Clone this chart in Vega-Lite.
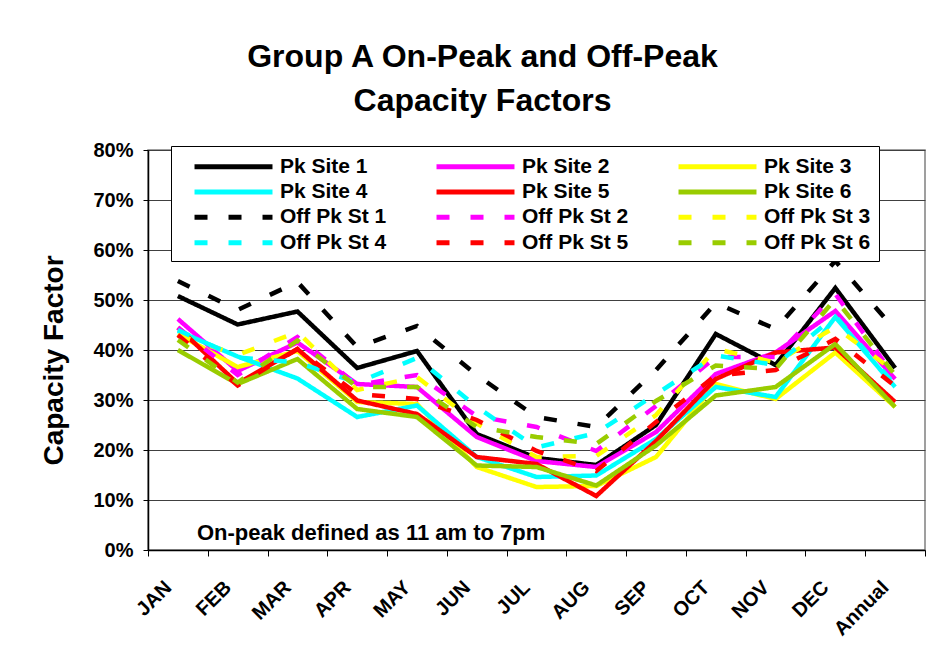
{
  "$schema": "https://vega.github.io/schema/vega-lite/v6.json",
  "width": 777,
  "height": 400,
  "autosize": {"type": "none"},
  "padding": {"left": 148, "top": 150, "right": 17, "bottom": 117},
  "background": "white",
  "config": {"font": "Liberation Sans", "view": {"stroke": "#808080", "strokeWidth": 1.5}},
  "title": {"text": ["Group A On-Peak and Off-Peak", "Capacity Factors"], "fontSize": 32, "fontWeight": "bold", "color": "black", "anchor": "middle", "frame": "group", "dx": -54, "lineHeight": 44, "offset": 22},
  "data": {"values": [
    {"m": "JAN", "s": "Pk Site 1", "v": 50.8}, {"m": "FEB", "s": "Pk Site 1", "v": 45.1}, {"m": "MAR", "s": "Pk Site 1", "v": 47.7}, {"m": "APR", "s": "Pk Site 1", "v": 36.4}, {"m": "MAY", "s": "Pk Site 1", "v": 39.8}, {"m": "JUN", "s": "Pk Site 1", "v": 23.2}, {"m": "JUL", "s": "Pk Site 1", "v": 18.4}, {"m": "AUG", "s": "Pk Site 1", "v": 17.0}, {"m": "SEP", "s": "Pk Site 1", "v": 25.0}, {"m": "OCT", "s": "Pk Site 1", "v": 43.2}, {"m": "NOV", "s": "Pk Site 1", "v": 37.0}, {"m": "DEC", "s": "Pk Site 1", "v": 52.4}, {"m": "Annual", "s": "Pk Site 1", "v": 36.4},
    {"m": "JAN", "s": "Pk Site 2", "v": 46.2}, {"m": "FEB", "s": "Pk Site 2", "v": 35.8}, {"m": "MAR", "s": "Pk Site 2", "v": 41.5}, {"m": "APR", "s": "Pk Site 2", "v": 33.2}, {"m": "MAY", "s": "Pk Site 2", "v": 32.6}, {"m": "JUN", "s": "Pk Site 2", "v": 22.6}, {"m": "JUL", "s": "Pk Site 2", "v": 17.8}, {"m": "AUG", "s": "Pk Site 2", "v": 16.6}, {"m": "SEP", "s": "Pk Site 2", "v": 23.6}, {"m": "OCT", "s": "Pk Site 2", "v": 35.2}, {"m": "NOV", "s": "Pk Site 2", "v": 39.5}, {"m": "DEC", "s": "Pk Site 2", "v": 47.8}, {"m": "Annual", "s": "Pk Site 2", "v": 34.2},
    {"m": "JAN", "s": "Pk Site 3", "v": 43.2}, {"m": "FEB", "s": "Pk Site 3", "v": 36.6}, {"m": "MAR", "s": "Pk Site 3", "v": 39.8}, {"m": "APR", "s": "Pk Site 3", "v": 29.6}, {"m": "MAY", "s": "Pk Site 3", "v": 29.2}, {"m": "JUN", "s": "Pk Site 3", "v": 16.6}, {"m": "JUL", "s": "Pk Site 3", "v": 12.6}, {"m": "AUG", "s": "Pk Site 3", "v": 12.8}, {"m": "SEP", "s": "Pk Site 3", "v": 18.6}, {"m": "OCT", "s": "Pk Site 3", "v": 33.2}, {"m": "NOV", "s": "Pk Site 3", "v": 30.2}, {"m": "DEC", "s": "Pk Site 3", "v": 39.5}, {"m": "Annual", "s": "Pk Site 3", "v": 28.6},
    {"m": "JAN", "s": "Pk Site 4", "v": 43.8}, {"m": "FEB", "s": "Pk Site 4", "v": 38.7}, {"m": "MAR", "s": "Pk Site 4", "v": 34.3}, {"m": "APR", "s": "Pk Site 4", "v": 26.6}, {"m": "MAY", "s": "Pk Site 4", "v": 28.9}, {"m": "JUN", "s": "Pk Site 4", "v": 18.6}, {"m": "JUL", "s": "Pk Site 4", "v": 14.6}, {"m": "AUG", "s": "Pk Site 4", "v": 14.9}, {"m": "SEP", "s": "Pk Site 4", "v": 22.2}, {"m": "OCT", "s": "Pk Site 4", "v": 32.6}, {"m": "NOV", "s": "Pk Site 4", "v": 30.6}, {"m": "DEC", "s": "Pk Site 4", "v": 46.6}, {"m": "Annual", "s": "Pk Site 4", "v": 32.6},
    {"m": "JAN", "s": "Pk Site 5", "v": 44.5}, {"m": "FEB", "s": "Pk Site 5", "v": 33.3}, {"m": "MAR", "s": "Pk Site 5", "v": 40.2}, {"m": "APR", "s": "Pk Site 5", "v": 29.9}, {"m": "MAY", "s": "Pk Site 5", "v": 27.2}, {"m": "JUN", "s": "Pk Site 5", "v": 18.6}, {"m": "JUL", "s": "Pk Site 5", "v": 17.2}, {"m": "AUG", "s": "Pk Site 5", "v": 10.8}, {"m": "SEP", "s": "Pk Site 5", "v": 21.8}, {"m": "OCT", "s": "Pk Site 5", "v": 34.2}, {"m": "NOV", "s": "Pk Site 5", "v": 39.5}, {"m": "DEC", "s": "Pk Site 5", "v": 40.5}, {"m": "Annual", "s": "Pk Site 5", "v": 29.6},
    {"m": "JAN", "s": "Pk Site 6", "v": 40.0}, {"m": "FEB", "s": "Pk Site 6", "v": 33.2}, {"m": "MAR", "s": "Pk Site 6", "v": 38.2}, {"m": "APR", "s": "Pk Site 6", "v": 28.2}, {"m": "MAY", "s": "Pk Site 6", "v": 26.6}, {"m": "JUN", "s": "Pk Site 6", "v": 16.9}, {"m": "JUL", "s": "Pk Site 6", "v": 16.6}, {"m": "AUG", "s": "Pk Site 6", "v": 12.9}, {"m": "SEP", "s": "Pk Site 6", "v": 20.9}, {"m": "OCT", "s": "Pk Site 6", "v": 30.9}, {"m": "NOV", "s": "Pk Site 6", "v": 32.6}, {"m": "DEC", "s": "Pk Site 6", "v": 41.2}, {"m": "Annual", "s": "Pk Site 6", "v": 28.6},
    {"m": "JAN", "s": "Off Pk St 1", "v": 53.8}, {"m": "FEB", "s": "Off Pk St 1", "v": 48.0}, {"m": "MAR", "s": "Off Pk St 1", "v": 53.6}, {"m": "APR", "s": "Off Pk St 1", "v": 40.6}, {"m": "MAY", "s": "Off Pk St 1", "v": 44.8}, {"m": "JUN", "s": "Off Pk St 1", "v": 35.0}, {"m": "JUL", "s": "Off Pk St 1", "v": 26.6}, {"m": "AUG", "s": "Off Pk St 1", "v": 24.6}, {"m": "SEP", "s": "Off Pk St 1", "v": 36.0}, {"m": "OCT", "s": "Off Pk St 1", "v": 49.4}, {"m": "NOV", "s": "Off Pk St 1", "v": 44.2}, {"m": "DEC", "s": "Off Pk St 1", "v": 57.8}, {"m": "Annual", "s": "Off Pk St 1", "v": 44.0},
    {"m": "JAN", "s": "Off Pk St 2", "v": 44.5}, {"m": "FEB", "s": "Off Pk St 2", "v": 35.0}, {"m": "MAR", "s": "Off Pk St 2", "v": 42.6}, {"m": "APR", "s": "Off Pk St 2", "v": 33.0}, {"m": "MAY", "s": "Off Pk St 2", "v": 35.0}, {"m": "JUN", "s": "Off Pk St 2", "v": 26.8}, {"m": "JUL", "s": "Off Pk St 2", "v": 24.6}, {"m": "AUG", "s": "Off Pk St 2", "v": 19.8}, {"m": "SEP", "s": "Off Pk St 2", "v": 28.8}, {"m": "OCT", "s": "Off Pk St 2", "v": 38.6}, {"m": "NOV", "s": "Off Pk St 2", "v": 38.6}, {"m": "DEC", "s": "Off Pk St 2", "v": 51.2}, {"m": "Annual", "s": "Off Pk St 2", "v": 34.6},
    {"m": "JAN", "s": "Off Pk St 3", "v": 43.0}, {"m": "FEB", "s": "Off Pk St 3", "v": 39.0}, {"m": "MAR", "s": "Off Pk St 3", "v": 43.6}, {"m": "APR", "s": "Off Pk St 3", "v": 32.0}, {"m": "MAY", "s": "Off Pk St 3", "v": 34.6}, {"m": "JUN", "s": "Off Pk St 3", "v": 25.3}, {"m": "JUL", "s": "Off Pk St 3", "v": 18.6}, {"m": "AUG", "s": "Off Pk St 3", "v": 18.8}, {"m": "SEP", "s": "Off Pk St 3", "v": 27.0}, {"m": "OCT", "s": "Off Pk St 3", "v": 40.2}, {"m": "NOV", "s": "Off Pk St 3", "v": 37.5}, {"m": "DEC", "s": "Off Pk St 3", "v": 44.6}, {"m": "Annual", "s": "Off Pk St 3", "v": 35.6},
    {"m": "JAN", "s": "Off Pk St 4", "v": 44.0}, {"m": "FEB", "s": "Off Pk St 4", "v": 38.5}, {"m": "MAR", "s": "Off Pk St 4", "v": 37.5}, {"m": "APR", "s": "Off Pk St 4", "v": 33.5}, {"m": "MAY", "s": "Off Pk St 4", "v": 38.4}, {"m": "JUN", "s": "Off Pk St 4", "v": 28.6}, {"m": "JUL", "s": "Off Pk St 4", "v": 20.5}, {"m": "AUG", "s": "Off Pk St 4", "v": 23.4}, {"m": "SEP", "s": "Off Pk St 4", "v": 31.2}, {"m": "OCT", "s": "Off Pk St 4", "v": 38.9}, {"m": "NOV", "s": "Off Pk St 4", "v": 37.0}, {"m": "DEC", "s": "Off Pk St 4", "v": 46.8}, {"m": "Annual", "s": "Off Pk St 4", "v": 33.0},
    {"m": "JAN", "s": "Off Pk St 5", "v": 43.0}, {"m": "FEB", "s": "Off Pk St 5", "v": 32.9}, {"m": "MAR", "s": "Off Pk St 5", "v": 40.2}, {"m": "APR", "s": "Off Pk St 5", "v": 31.2}, {"m": "MAY", "s": "Off Pk St 5", "v": 30.2}, {"m": "JUN", "s": "Off Pk St 5", "v": 26.0}, {"m": "JUL", "s": "Off Pk St 5", "v": 19.8}, {"m": "AUG", "s": "Off Pk St 5", "v": 15.8}, {"m": "SEP", "s": "Off Pk St 5", "v": 25.6}, {"m": "OCT", "s": "Off Pk St 5", "v": 34.9}, {"m": "NOV", "s": "Off Pk St 5", "v": 36.0}, {"m": "DEC", "s": "Off Pk St 5", "v": 42.2}, {"m": "Annual", "s": "Off Pk St 5", "v": 32.8},
    {"m": "JAN", "s": "Off Pk St 6", "v": 42.0}, {"m": "FEB", "s": "Off Pk St 6", "v": 33.5}, {"m": "MAR", "s": "Off Pk St 6", "v": 41.9}, {"m": "APR", "s": "Off Pk St 6", "v": 32.6}, {"m": "MAY", "s": "Off Pk St 6", "v": 32.6}, {"m": "JUN", "s": "Off Pk St 6", "v": 24.6}, {"m": "JUL", "s": "Off Pk St 6", "v": 22.6}, {"m": "AUG", "s": "Off Pk St 6", "v": 21.2}, {"m": "SEP", "s": "Off Pk St 6", "v": 29.8}, {"m": "OCT", "s": "Off Pk St 6", "v": 36.9}, {"m": "NOV", "s": "Off Pk St 6", "v": 36.2}, {"m": "DEC", "s": "Off Pk St 6", "v": 50.2}, {"m": "Annual", "s": "Off Pk St 6", "v": 35.0}
  ]},
  "layer": [
    {
      "mark": {"type": "line", "strokeWidth": 4.5, "strokeJoin": "miter", "strokeCap": "butt"},
      "encoding": {
        "x": {"field": "m", "type": "ordinal", "bandPosition": 0.5,
              "sort": ["JAN", "FEB", "MAR", "APR", "MAY", "JUN", "JUL", "AUG", "SEP", "OCT", "NOV", "DEC", "Annual"],
              "scale": {"type": "band", "paddingInner": 0, "paddingOuter": 0},
              "axis": {"title": null, "labelAngle": -45, "labelAlign": "right", "labelBaseline": "middle", "labelFontSize": 20, "labelFontWeight": "bold", "labelColor": "black", "labelPadding": 28, "labelOffset": -10, "tickBand": "extent", "tickColor": "black", "tickSize": 6, "domainColor": "black", "domainWidth": 1.5, "grid": false}},
        "y": {"field": "v", "type": "quantitative",
              "scale": {"domain": [0, 80], "nice": false},
              "axis": {"title": "Capacity Factor", "titleFontSize": 28, "titleFontWeight": "bold", "titleColor": "black", "titlePadding": 24, "titleY": 210, "values": [0, 10, 20, 30, 40, 50, 60, 70, 80], "labelExpr": "datum.value + '%'", "labelFontSize": 20, "labelFontWeight": "bold", "labelColor": "black", "labelPadding": 10, "tickSize": 5, "tickColor": "black", "domainColor": "black", "domainWidth": 1.5, "gridColor": "#404040", "gridWidth": 1}},
        "color": {"field": "s", "type": "nominal",
                  "scale": {"domain": ["Pk Site 1", "Pk Site 2", "Pk Site 3", "Pk Site 4", "Pk Site 5", "Pk Site 6", "Off Pk St 1", "Off Pk St 2", "Off Pk St 3", "Off Pk St 4", "Off Pk St 5", "Off Pk St 6"],
                            "range": ["#000000", "#FF00FF", "#FFFF00", "#00FFFF", "#FF0000", "#99CC00", "#000000", "#FF00FF", "#FFFF00", "#00FFFF", "#FF0000", "#99CC00"]},
                  "legend": {"orient": "none", "direction": "horizontal", "legendX": 23, "legendY": -4, "columns": 3, "title": null, "symbolType": "M-4,0H4", "symbolSize": 380, "symbolStrokeWidth": 5, "symbolOffset": 42, "labelFontSize": 21, "labelFontWeight": "bold", "labelColor": "black", "labelOffset": 34, "columnPadding": 34, "rowPadding": 2.4, "padding": 8, "fillColor": "white", "strokeColor": "black", "labelLimit": 300}},
        "strokeDash": {"field": "s", "type": "nominal",
                  "scale": {"domain": ["Pk Site 1", "Pk Site 2", "Pk Site 3", "Pk Site 4", "Pk Site 5", "Pk Site 6", "Off Pk St 1", "Off Pk St 2", "Off Pk St 3", "Off Pk St 4", "Off Pk St 5", "Off Pk St 6"],
                            "range": [[1, 0], [1, 0], [1, 0], [1, 0], [1, 0], [1, 0], [13, 21], [13, 21], [13, 21], [13, 21], [13, 21], [13, 21]]},
                  "legend": {"orient": "none", "direction": "horizontal", "legendX": 23, "legendY": -4, "columns": 3, "title": null, "symbolType": "M-4,0H4", "symbolSize": 380, "symbolStrokeWidth": 5, "symbolOffset": 42, "labelFontSize": 21, "labelFontWeight": "bold", "labelColor": "black", "labelOffset": 34, "columnPadding": 34, "rowPadding": 2.4, "padding": 8, "fillColor": "white", "strokeColor": "black", "labelLimit": 300}}
      }
    },
    {
      "data": {"values": [{"note": "On-peak defined as 11 am to 7pm", "m": "JAN", "v": 2.0}]},
      "mark": {"type": "text", "align": "left", "baseline": "alphabetic", "fontSize": 22, "fontWeight": "bold", "color": "black", "dx": 19},
      "encoding": {"x": {"field": "m", "type": "ordinal", "sort": ["JAN", "FEB", "MAR", "APR", "MAY", "JUN", "JUL", "AUG", "SEP", "OCT", "NOV", "DEC", "Annual"]}, "y": {"field": "v", "type": "quantitative"}, "text": {"field": "note"}}
    }
  ]
}
